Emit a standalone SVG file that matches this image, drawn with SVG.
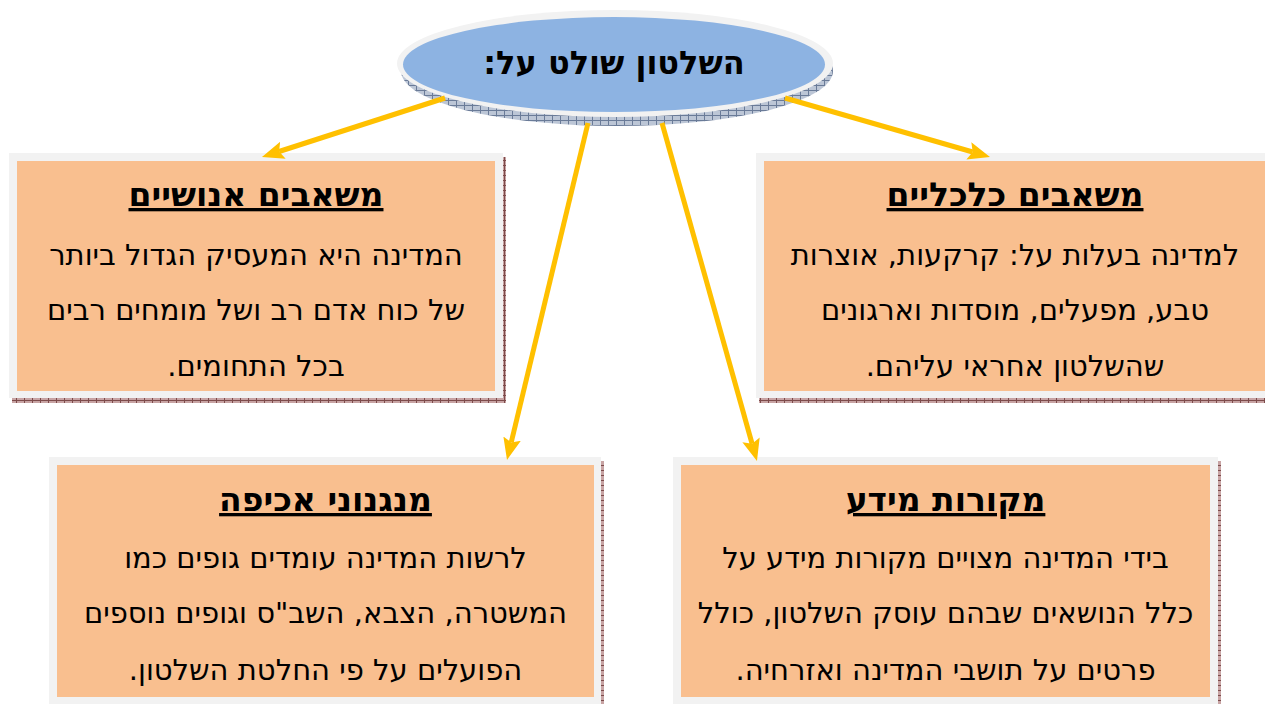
<svg xmlns="http://www.w3.org/2000/svg" width="1265" height="704" viewBox="0 0 1265 704">
  <defs>
    <style>
      .frame { fill: #F2F2F2; }
      .box { fill: #F9BF8F; }
      .shadow { fill: url(#hatchR); }
      .title { font-family: "DejaVu Sans", "Liberation Sans", sans-serif; font-weight: bold; font-size: 33px; fill: #000; direction: rtl; text-anchor: middle; text-decoration: underline; text-decoration-thickness: 3px; }
      .body { font-family: "DejaVu Sans", "Liberation Sans", sans-serif; font-size: 29px; fill: #000; direction: rtl; text-anchor: middle; }
      .head { font-family: "DejaVu Sans", "Liberation Sans", sans-serif; font-weight: bold; font-size: 32px; fill: #000; direction: rtl; text-anchor: middle; }
      .conn { stroke: #FFC000; stroke-width: 5; fill: none; marker-end: url(#arrow); }
    </style>
    <pattern id="hatchR" width="8" height="5" patternUnits="userSpaceOnUse">
      <rect width="8" height="5" fill="#c8a4a4"/>
      <path d="M0 0.5H8M0.5 0V5" stroke="#7d4b4b" stroke-width="1"/>
    </pattern>
    <pattern id="hatchB" width="8" height="5" patternUnits="userSpaceOnUse">
      <rect width="8" height="5" fill="#bcc6d6"/>
      <path d="M0 0.5H8M0.5 0V5" stroke="#6a7b98" stroke-width="1"/>
    </pattern>
    <marker id="arrow" markerUnits="userSpaceOnUse" markerWidth="24" markerHeight="20" refX="4" refY="9" orient="auto">
      <path d="M0,0 L22,9 L0,18 L4,9 z" fill="#FFC000"/>
    </marker>
  </defs>

  <g id="center">
    <ellipse cx="617" cy="71" rx="216" ry="55" fill="url(#hatchB)"/>
    <ellipse cx="615" cy="63.5" rx="218" ry="53.5" fill="#F2F2F2"/>
    <ellipse cx="614" cy="64.5" rx="211" ry="47.5" fill="#8DB3E2"/>
    <text class="head" x="614" y="74">השלטון שולט על:</text>
  </g>

  <g id="node-human">
    <rect class="shadow" x="12" y="157" width="494" height="246"/>
    <rect class="frame" x="9" y="153" width="494" height="245"/>
    <rect class="box" x="17" y="161" width="478" height="230"/>
    <text class="title" x="256" y="206">משאבים אנושיים</text>
    <text class="body" x="256" y="265">המדינה היא המעסיק הגדול ביותר</text>
    <text class="body" x="256" y="320">של כוח אדם רב ושל מומחים רבים</text>
    <text class="body" x="256" y="376">בכל התחומים.</text>
  </g>

  <g id="node-economic">
    <rect class="shadow" x="759" y="157" width="520" height="246"/>
    <rect class="frame" x="756" y="153" width="520" height="245"/>
    <rect class="box" x="764" y="161" width="504" height="230"/>
    <text class="title" x="1015" y="206">משאבים כלכליים</text>
    <text class="body" x="1015" y="265">למדינה בעלות על: קרקעות, אוצרות</text>
    <text class="body" x="1015" y="320">טבע, מפעלים, מוסדות וארגונים</text>
    <text class="body" x="1015" y="376">שהשלטון אחראי עליהם.</text>
  </g>

  <g id="node-enforcement">
    <rect class="shadow" x="52" y="461" width="552" height="250"/>
    <rect class="frame" x="49" y="457" width="552" height="250"/>
    <rect class="box" x="57" y="465" width="537" height="232"/>
    <text class="title" x="325.5" y="511">מנגנוני אכיפה</text>
    <text class="body" x="325.5" y="568">לרשות המדינה עומדים גופים כמו</text>
    <text class="body" x="325.5" y="623">המשטרה, הצבא, השב"ס וגופים נוספים</text>
    <text class="body" x="325.5" y="680">הפועלים על פי החלטת השלטון.</text>
  </g>

  <g id="node-information">
    <rect class="shadow" x="676" y="461" width="545" height="250"/>
    <rect class="frame" x="673" y="457" width="545" height="250"/>
    <rect class="box" x="681" y="465" width="529" height="232"/>
    <text class="title" x="945.5" y="511">מקורות מידע</text>
    <text class="body" x="945.5" y="568">בידי המדינה מצויים מקורות מידע על</text>
    <text class="body" x="945.5" y="623">כלל הנושאים שבהם עוסק השלטון, כולל</text>
    <text class="body" x="945.5" y="680">פרטים על תושבי המדינה ואזרחיה.</text>
  </g>

  <g id="connectors">
    <line class="conn" x1="445" y1="98" x2="279.1" y2="151.5"/>
    <line class="conn" x1="785" y1="98" x2="972.7" y2="152"/>
    <line class="conn" x1="588" y1="123" x2="511.2" y2="442.5"/>
    <line class="conn" x1="662" y1="123" x2="752.1" y2="443.7"/>
  </g>
</svg>
